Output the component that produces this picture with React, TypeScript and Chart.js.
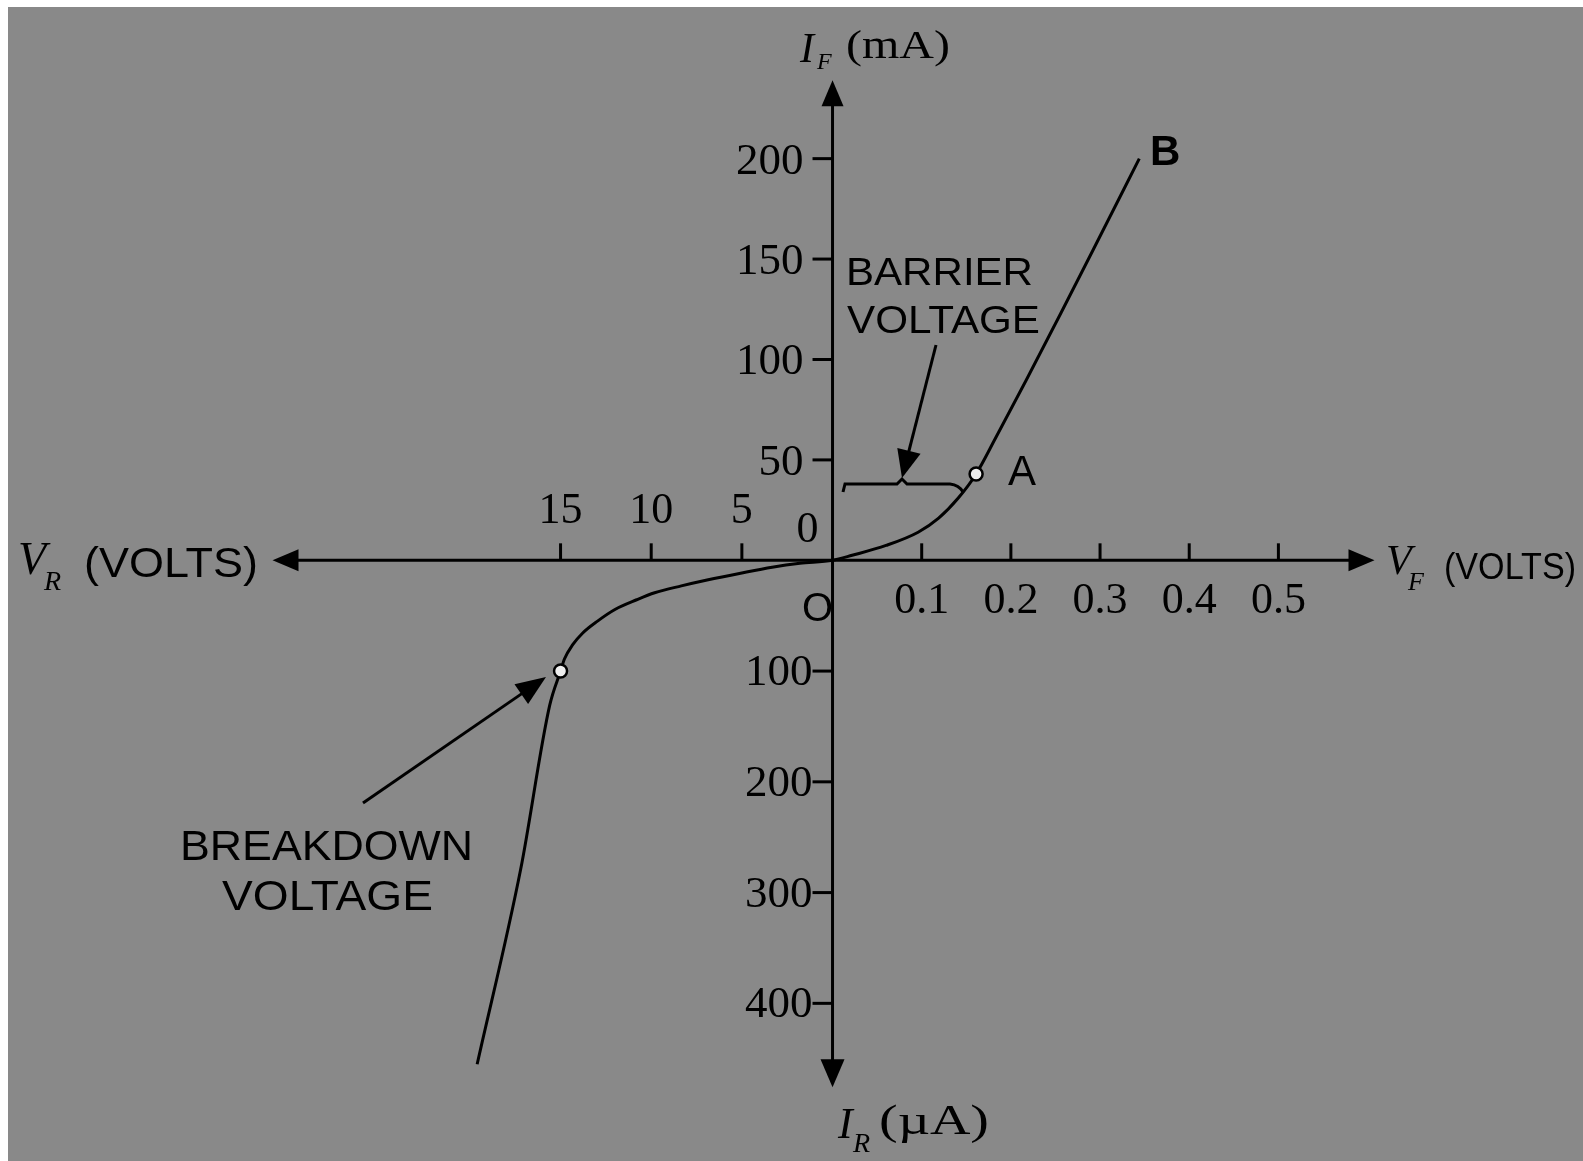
import React, { useEffect, useRef } from "react";
import { Chart, registerables } from "chart.js";

Chart.register(...registerables);

// ---- Data ----
// Reverse-bias branch: voltage in volts (negative = reverse), current in µA (negative = reverse)
const reverseVolts = [-19.6, -17.2, -15.6, -15.0, -14.78, -14.34, -13.79, -12.98, -12.0, -10.8, -9.81, -8.34, -6.92, -5.07, -3.33, -1.8, 0];
const reverseMicroAmps = [-455, -279, -131, -100, -88.9, -76.4, -65.8, -55.1, -44.4, -35.6, -29.3, -23.1, -17.8, -11.6, -6.2, -2.7, 0];
// Forward-bias branch: voltage in volts, current in mA
const forwardVolts = [0.022, 0.06, 0.096, 0.119, 0.141, 0.161, 0.183, 0.217, 0.256, 0.295, 0.344];
const forwardMilliAmps = [2.5, 7.4, 14, 21, 31, 43, 61, 89.5, 123, 157, 200];
// Marked points: breakdown voltage and point A
const markerVolts = [-15, 0.161];
const markerCurrents = [-100, 43];
// Tick labels
const forwardVoltTicks = [0.1, 0.2, 0.3, 0.4, 0.5];
const reverseVoltTicks = [5, 10, 15];
const forwardCurrentTicks = [50, 100, 150, 200];
const reverseCurrentTicks = [100, 200, 300, 400];

// ---- Piecewise axis scaling (each quadrant has its own unit) ----
const FWD_PER_V = 902; // plot units per forward volt
const REV_PER_V = 18.34; // plot units per reverse volt
const FWD_PER_MA = 2.04; // plot units per forward mA
const REV_PER_UA = 1.125; // plot units per reverse µA
const tx = (v: number) => (v >= 0 ? v * FWD_PER_V : v * REV_PER_V);
const ty = (i: number) => (i >= 0 ? i * FWD_PER_MA : i * REV_PER_UA);

const W = 1583;
const H = 1161;
const BG = "#898989";
const INK = "#000";
const SERIF = '"Liberation Serif", "DejaVu Serif", serif';
const SANS = '"Liberation Sans", Arial, sans-serif';

function drawText(
  ctx: CanvasRenderingContext2D,
  s: string,
  x: number,
  y: number,
  font: string,
  align: CanvasTextAlign = "left",
  width?: number
) {
  ctx.save();
  ctx.font = font;
  ctx.fillStyle = INK;
  ctx.textBaseline = "alphabetic";
  ctx.textAlign = align;
  if (width) {
    const m = ctx.measureText(s).width;
    ctx.translate(x, y);
    ctx.scale(width / m, 1);
    ctx.fillText(s, 0, 0);
  } else {
    ctx.fillText(s, x, y);
  }
  ctx.restore();
}

function arrow(
  ctx: CanvasRenderingContext2D,
  x1: number,
  y1: number,
  x2: number,
  y2: number,
  len: number,
  half: number,
  lw = 3
) {
  const dx = x2 - x1;
  const dy = y2 - y1;
  const d = Math.hypot(dx, dy);
  const ux = dx / d;
  const uy = dy / d;
  const bx = x2 - ux * len;
  const by = y2 - uy * len;
  ctx.save();
  ctx.strokeStyle = INK;
  ctx.fillStyle = INK;
  ctx.lineWidth = lw;
  ctx.beginPath();
  ctx.moveTo(x1, y1);
  ctx.lineTo(bx + ux * 2, by + uy * 2);
  ctx.stroke();
  ctx.beginPath();
  ctx.moveTo(x2, y2);
  ctx.lineTo(bx - uy * half, by + ux * half);
  ctx.lineTo(bx + uy * half, by - ux * half);
  ctx.closePath();
  ctx.fill();
  ctx.restore();
}

const backgroundPlugin = {
  id: "bg",
  beforeDraw(chart: any) {
    const ctx = chart.ctx as CanvasRenderingContext2D;
    ctx.save();
    ctx.fillStyle = "#ffffff";
    ctx.fillRect(0, 0, W, H);
    ctx.fillStyle = BG;
    ctx.fillRect(8, 7, W - 8, H - 7);
    ctx.restore();
  },
};

const axesPlugin = {
  id: "diodeAxes",
  beforeDatasetsDraw(chart: any) {
    const ctx = chart.ctx as CanvasRenderingContext2D;
    const sx = chart.scales.x;
    const sy = chart.scales.y;
    const px = (v: number) => sx.getPixelForValue(tx(v));
    const py = (i: number) => sy.getPixelForValue(ty(i));
    const ox = px(0);
    const oy = py(0);

    ctx.save();
    ctx.strokeStyle = INK;
    ctx.lineWidth = 3;
    ctx.lineCap = "butt";

    // axes with arrowheads
    arrow(ctx, ox, oy, ox + 542, oy, 26, 11);
    arrow(ctx, ox, oy, ox - 560, oy, 26, 11);
    arrow(ctx, ox, oy, ox, oy - 480, 26, 11);
    arrow(ctx, ox, oy, ox, oy + 527, 28, 12);

    // x ticks (pointing up)
    ctx.lineWidth = 3;
    for (const v of forwardVoltTicks) {
      const x = px(v);
      ctx.beginPath();
      ctx.moveTo(x, oy);
      ctx.lineTo(x, oy - 17);
      ctx.stroke();
      drawText(ctx, v.toFixed(1), x, oy + 53, `44px ${SERIF}`, "center");
    }
    for (const v of reverseVoltTicks) {
      const x = px(-v);
      ctx.beginPath();
      ctx.moveTo(x, oy);
      ctx.lineTo(x, oy - 17);
      ctx.stroke();
      drawText(ctx, String(v), x, oy - 37, `44px ${SERIF}`, "center");
    }
    drawText(ctx, "0", ox - 25, oy - 18, `44px ${SERIF}`, "center");
    drawText(ctx, "O", ox - 15, oy + 61, `40px ${SANS}`, "center");

    // y ticks (pointing left)
    for (const i of forwardCurrentTicks) {
      const y = py(i);
      ctx.beginPath();
      ctx.moveTo(ox - 20, y);
      ctx.lineTo(ox, y);
      ctx.stroke();
      drawText(ctx, String(i), ox - 29, y + 15, `45px ${SERIF}`, "right");
    }
    for (const i of reverseCurrentTicks) {
      const y = py(-i);
      ctx.beginPath();
      ctx.moveTo(ox - 20, y);
      ctx.lineTo(ox, y);
      ctx.stroke();
      drawText(ctx, String(i), ox - 20, y + 14, `45px ${SERIF}`, "right");
    }

    // axis titles
    drawText(ctx, "I", 800, 62, `italic 42px ${SERIF}`);
    drawText(ctx, "F", 817, 69, `italic 24px ${SERIF}`);
    drawText(ctx, "(mA)", 846, 58, `40px ${SERIF}`, "left", 104);

    drawText(ctx, "I", 838, 1138, `italic 44px ${SERIF}`);
    drawText(ctx, "R", 853, 1152, `italic 28px ${SERIF}`);
    drawText(ctx, "(µA)", 879, 1134, `42px ${SERIF}`, "left", 110);

    drawText(ctx, "V", 18, 574, `italic 46px ${SERIF}`);
    drawText(ctx, "R", 44, 590, `italic 28px ${SERIF}`);
    drawText(ctx, "(VOLTS)", 84, 577, `42px ${SANS}`, "left", 174);

    drawText(ctx, "V", 1386, 574, `italic 42px ${SERIF}`);
    drawText(ctx, "F", 1408, 590, `italic 26px ${SERIF}`);
    drawText(ctx, "(VOLTS)", 1444, 579, `36px ${SANS}`, "left", 132);

    // barrier voltage bracket and arrow
    ctx.lineWidth = 3;
    ctx.beginPath();
    ctx.moveTo(843, 492);
    ctx.lineTo(845, 484);
    ctx.lineTo(897, 484);
    ctx.lineTo(902, 479);
    ctx.lineTo(907, 484);
    ctx.lineTo(950, 484);
    ctx.quadraticCurveTo(959, 485, 963, 492);
    ctx.stroke();
    arrow(ctx, 936, 345, 902, 478, 28, 12);
    drawText(ctx, "BARRIER", 846, 285, `38px ${SANS}`, "left", 187);
    drawText(ctx, "VOLTAGE", 847, 333, `38px ${SANS}`, "left", 193);

    // breakdown voltage arrow
    arrow(ctx, 363, 803, 546, 677, 30, 12);
    drawText(ctx, "BREAKDOWN", 180, 860, `42px ${SANS}`, "left", 293);
    drawText(ctx, "VOLTAGE", 222, 910, `42px ${SANS}`, "left", 211);

    // point labels
    drawText(ctx, "A", 1008, 485, `42px ${SANS}`);
    drawText(ctx, "B", 1150, 165, `bold 42px ${SANS}`);

    ctx.restore();
  },
};

export default function App() {
  const ref = useRef<HTMLCanvasElement | null>(null);

  useEffect(() => {
    if (!ref.current) return;
    const curve = [
      ...reverseVolts.map((v, k) => ({ x: tx(v), y: ty(reverseMicroAmps[k]) })),
      ...forwardVolts.map((v, k) => ({ x: tx(v), y: ty(forwardMilliAmps[k]) })),
    ];
    const markers = markerVolts.map((v, k) => ({ x: tx(v), y: ty(markerCurrents[k]) }));

    const chart = new Chart(ref.current, {
      type: "line",
      data: {
        datasets: [
          {
            label: "markers",
            data: markers,
            showLine: false,
            pointRadius: 6.5,
            pointBackgroundColor: "#eeeeee",
            pointBorderColor: INK,
            pointBorderWidth: 2.5,
            order: 0,
          },
          {
            label: "I-V",
            data: curve,
            borderColor: INK,
            borderWidth: 3,
            pointRadius: 0,
            fill: false,
            cubicInterpolationMode: "monotone",
            order: 1,
          },
        ],
      },
      options: {
        responsive: false,
        maintainAspectRatio: false,
        animation: false,
        events: [],
        layout: { padding: 0 },
        plugins: {
          legend: { display: false },
          title: { display: false },
          tooltip: { enabled: false },
        },
        scales: {
          x: { type: "linear", min: -833, max: W - 833, display: false },
          y: { type: "linear", min: -(H - 560), max: 560, display: false },
        },
      } as any,
      plugins: [backgroundPlugin, axesPlugin],
    });
    return () => chart.destroy();
  }, []);

  return (
    <canvas
      ref={ref}
      width={W}
      height={H}
      style={{ position: "fixed", left: 0, top: 0, width: W, height: H, display: "block" }}
    />
  );
}
